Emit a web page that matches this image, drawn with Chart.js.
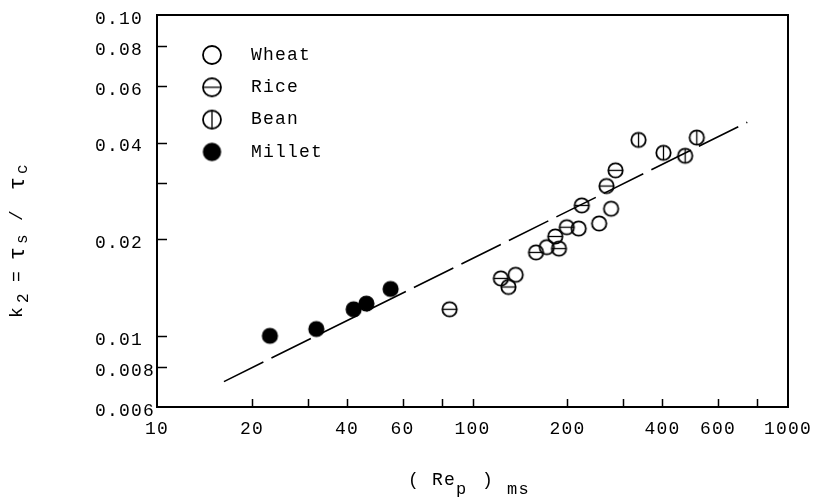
<!DOCTYPE html>
<html>
<head>
<meta charset="utf-8">
<script src="https://cdn.jsdelivr.net/npm/chart.js@4"></script>
<style>
  html, body { margin: 0; padding: 0; background: #fff; }
</style>
</head>
<body>
<canvas id="chart" width="817" height="498"></canvas>
<script>
const monoFont = '"Liberation Mono", "DejaVu Sans Mono", monospace'

// Puntos medidos: (Re_p)ms en x, k2 = tau_s / tau_c en y
const wheatX = [137, 172, 217, 252, 275]
const wheatY = [0.0155, 0.0189, 0.0216, 0.0224, 0.0249]
const riceX = [84.6, 123, 130, 159, 183, 188, 199, 222, 266, 284]
const riceY = [0.0121, 0.0151, 0.0142, 0.0182, 0.0204, 0.0187, 0.0218, 0.0255, 0.0293, 0.0328]
const beanX = [336, 403, 472, 514]
const beanY = [0.0408, 0.0372, 0.0364, 0.0415]
const milletX = [22.8, 32, 42, 46.1, 55]
const milletY = [0.0100, 0.0105, 0.0121, 0.0126, 0.0140]

// Recta de ajuste (extremos)
const fitX = [16.3, 743]
const fitY = [0.0072, 0.0463]

// Marcas y etiquetas de los ejes
const xTicks = [10, 20, 30, 40, 60, 80, 100, 200, 300, 400, 600, 800, 1000]
const xLabels = ['10', '20', '', '40', '60', '', '100', '200', '', '400', '600', '', '1000']
const yTicks = [0.006, 0.008, 0.01, 0.02, 0.03, 0.04, 0.06, 0.08, 0.1]
const yLabels = ['0.006', '0.008', '0.01', '0.02', '', '0.04', '0.06', '0.08', '0.10']
const seriesNames = ['Wheat', 'Rice', 'Bean', 'Millet']
const seriesKinds = ['open', 'hline', 'vline', 'filled']

// Dibuja un marcador circular en un canvas pequeño (se usa como pointStyle)
function makeMarker(kind, r) {
  const lw = 1.8
  const size = Math.ceil(2 * r + lw + 2)
  const c = document.createElement('canvas')
  c.width = size
  c.height = size
  const g = c.getContext('2d')
  const m = size / 2
  g.strokeStyle = '#000'
  g.fillStyle = '#000'
  g.lineWidth = lw
  g.beginPath()
  g.arc(m, m, r, 0, Math.PI * 2)
  if (kind === 'filled') g.fill()
  g.stroke()
  g.lineWidth = 1.3
  if (kind === 'hline') {
    g.beginPath(); g.moveTo(m - r, m); g.lineTo(m + r, m); g.stroke()
  }
  if (kind === 'vline') {
    g.beginPath(); g.moveTo(m, m - r); g.lineTo(m, m + r); g.stroke()
  }
  return c
}

const pointMarkers = seriesKinds.map(k => makeMarker(k, 7.2))
const legendMarkers = seriesKinds.map(k => makeMarker(k, k === 'filled' ? 8.3 : 9))

function toPoints(xs, ys) {
  return xs.map((x, i) => ({ x: x, y: ys[i] }))
}

function setSpacing(ctx) {
  ctx.letterSpacing = '1.2px'
}

// Marco, marcas hacia dentro, leyenda y títulos de los ejes
const framePlugin = {
  id: 'frame',
  beforeUpdate(chart) { setSpacing(chart.ctx) },
  beforeDraw(chart) {
    const ctx = chart.ctx
    setSpacing(ctx)
    ctx.save()
    ctx.fillStyle = '#fff'
    ctx.fillRect(0, 0, chart.width, chart.height)
    ctx.restore()
  },
  afterDraw(chart) {
    const ctx = chart.ctx
    const a = chart.chartArea
    const xs = chart.scales.x
    const ys = chart.scales.y
    ctx.save()
    setSpacing(ctx)
    ctx.strokeStyle = '#000'
    ctx.lineWidth = 2
    ctx.strokeRect(a.left, a.top, a.right - a.left, a.bottom - a.top)

    ctx.lineWidth = 1.5
    ctx.beginPath()
    xTicks.slice(1, -1).forEach(v => {
      const px = Math.round(xs.getPixelForValue(v)) + 0.5
      ctx.moveTo(px, a.bottom)
      ctx.lineTo(px, a.bottom - 8)
    })
    yTicks.slice(1, -1).forEach(v => {
      const py = Math.round(ys.getPixelForValue(v)) + 0.5
      ctx.moveTo(a.left, py)
      ctx.lineTo(a.left + 10, py)
    })
    ctx.stroke()

    // leyenda
    ctx.fillStyle = '#000'
    ctx.font = '18px ' + monoFont
    ctx.textBaseline = 'middle'
    ctx.textAlign = 'left'
    seriesNames.forEach((name, i) => {
      const cy = a.top + 40 + i * 32.3
      const mk = legendMarkers[i]
      ctx.drawImage(mk, a.left + 55 - mk.width / 2, cy - mk.height / 2)
      ctx.fillText(name, a.left + 94, cy)
    })

    // título eje x: ( Re_p ) ms
    ctx.textBaseline = 'alphabetic'
    ctx.font = '18px ' + monoFont
    ctx.fillText('(', 408, 485)
    ctx.fillText('Re', 432, 485)
    ctx.fillText(')', 482, 485)
    ctx.font = '17px ' + monoFont
    ctx.fillText('p', 456, 494)
    ctx.fillText('ms', 507, 494)

    // título eje y: k2 = tau_s / tau_c (rotado)
    ctx.translate(22, 318)
    ctx.rotate(-Math.PI / 2)
    ctx.font = '18px ' + monoFont
    ctx.fillText('k', 0, 0)
    ctx.fillText('=', 36, 0)
    ctx.fillText('/', 97, 0)
    ctx.font = '22px ' + monoFont
    ctx.fillText('τ', 58, 2)
    ctx.fillText('τ', 128, 2)
    ctx.font = '16px ' + monoFont
    ctx.fillText('2', 15, 6)
    ctx.fillText('s', 74, 5)
    ctx.fillText('c', 144, 5)
    ctx.restore()
  }
}

const tickFont = { family: monoFont, size: 18 }

new Chart(document.getElementById('chart'), {
  type: 'scatter',
  data: {
    datasets: [
      { label: seriesNames[0], data: toPoints(wheatX, wheatY), pointStyle: pointMarkers[0] },
      { label: seriesNames[1], data: toPoints(riceX, riceY), pointStyle: pointMarkers[1] },
      { label: seriesNames[2], data: toPoints(beanX, beanY), pointStyle: pointMarkers[2] },
      { label: seriesNames[3], data: toPoints(milletX, milletY), pointStyle: pointMarkers[3] },
      {
        label: 'fit',
        data: toPoints(fitX, fitY),
        showLine: true,
        pointRadius: 0,
        borderColor: '#000',
        borderWidth: 1.6,
        borderDash: [44, 9]
      }
    ]
  },
  options: {
    responsive: false,
    devicePixelRatio: 1,
    animation: false,
    layout: { padding: { left: 95, right: 29, top: 15, bottom: 0 } },
    plugins: {
      legend: { display: false },
      tooltip: { enabled: false }
    },
    scales: {
      x: {
        type: 'logarithmic',
        min: 10,
        max: 1000,
        grid: { display: false, drawTicks: false },
        border: { display: false },
        afterBuildTicks(scale) { scale.ticks = xTicks.map(v => ({ value: v })) },
        afterFit(scale) {
          scale.height = 91
          scale.paddingLeft = 0
          scale.paddingRight = 0
        },
        ticks: {
          autoSkip: false,
          maxRotation: 0,
          padding: 11,
          color: '#000',
          font: tickFont,
          callback: (v) => xLabels[xTicks.indexOf(v)]
        }
      },
      y: {
        type: 'logarithmic',
        min: 0.006,
        max: 0.1,
        grid: { display: false, drawTicks: false },
        border: { display: false },
        afterBuildTicks(scale) { scale.ticks = yTicks.map(v => ({ value: v })) },
        afterFit(scale) {
          scale.width = 62
          scale.paddingTop = 0
          scale.paddingBottom = 0
        },
        ticks: {
          autoSkip: false,
          crossAlign: 'far',
          labelOffset: 4,
          color: '#000',
          font: tickFont,
          callback: (v) => yLabels[yTicks.indexOf(v)]
        }
      }
    }
  },
  plugins: [framePlugin]
})
</script>
</body>
</html>
